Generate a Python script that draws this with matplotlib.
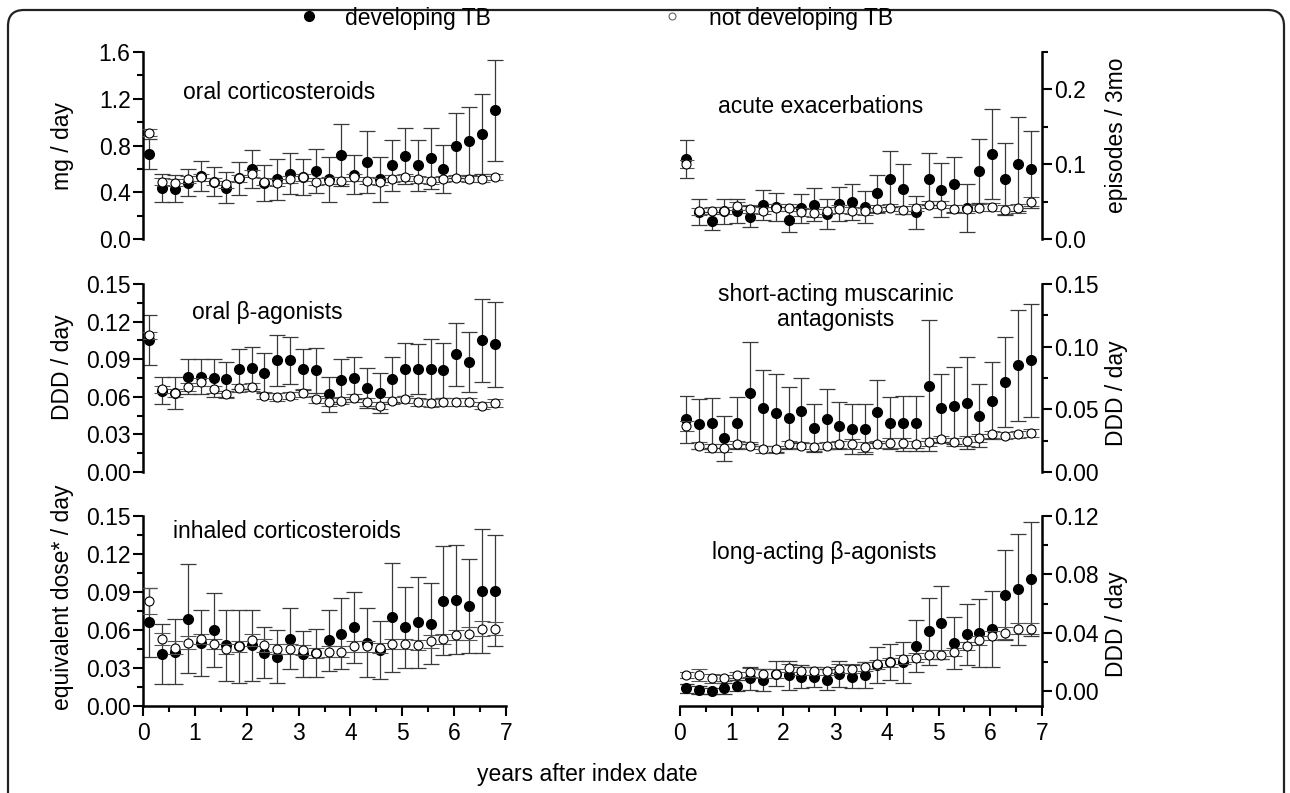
import matplotlib
matplotlib.use("Agg")
import matplotlib.pyplot as plt
from matplotlib.lines import Line2D
from matplotlib.patches import FancyBboxPatch
from matplotlib.transforms import IdentityTransform
from matplotlib.ticker import MultipleLocator, FormatStrFormatter

plt.rcParams['font.family'] = ['Liberation Sans', 'DejaVu Sans']
plt.rcParams['font.size'] = 16.5

# years after index date (quarter-year bins)
years = [0.12, 0.37, 0.62, 0.86, 1.11, 1.36, 1.60, 1.85, 2.10, 2.34, 2.59, 2.84, 3.08, 3.33,
         3.58, 3.82, 4.07, 4.32, 4.56, 4.81, 5.05, 5.30, 5.55, 5.79, 6.04, 6.29, 6.53, 6.78]

# oral corticosteroids (mg / day)
ocs_tb = [0.73, 0.44, 0.43, 0.48, 0.54, 0.49, 0.44, 0.52, 0.60, 0.48, 0.51, 0.56, 0.53, 0.58,
          0.51, 0.72, 0.55, 0.66, 0.51, 0.63, 0.71, 0.63, 0.69, 0.60, 0.80, 0.84, 0.90, 1.10]
ocs_tb_err = [0.13, 0.12, 0.115, 0.115, 0.13, 0.125, 0.13, 0.14, 0.16, 0.155, 0.175, 0.175, 0.155, 0.19,
              0.19, 0.265, 0.165, 0.265, 0.19, 0.22, 0.24, 0.22, 0.26, 0.205, 0.28, 0.29, 0.34, 0.43]
ocs_no = [0.91, 0.49, 0.48, 0.51, 0.53, 0.49, 0.47, 0.52, 0.56, 0.49, 0.48, 0.51, 0.53, 0.49,
          0.50, 0.50, 0.53, 0.50, 0.49, 0.515, 0.53, 0.51, 0.50, 0.515, 0.52, 0.51, 0.51, 0.53]
ocs_no_err = [0.03, 0.03, 0.03, 0.03, 0.03, 0.03, 0.03, 0.03, 0.03, 0.03, 0.03, 0.03, 0.03, 0.03,
              0.03, 0.03, 0.03, 0.03, 0.03, 0.03, 0.03, 0.03, 0.03, 0.025, 0.025, 0.025, 0.025, 0.025]

# acute exacerbations (episodes / 3mo)
exa_tb = [0.107, 0.036, 0.024, 0.037, 0.037, 0.030, 0.046, 0.043, 0.026, 0.041, 0.046, 0.034, 0.047, 0.050,
          0.043, 0.061, 0.080, 0.067, 0.036, 0.080, 0.066, 0.073, 0.041, 0.091, 0.114, 0.080, 0.100, 0.093]
exa_tb_err = [0.026, 0.017, 0.012, 0.017, 0.016, 0.014, 0.020, 0.019, 0.017, 0.019, 0.022, 0.020, 0.023, 0.024,
              0.021, 0.025, 0.037, 0.033, 0.022, 0.035, 0.036, 0.037, 0.032, 0.043, 0.060, 0.048, 0.063, 0.052]
exa_no = [0.100, 0.037, 0.038, 0.038, 0.044, 0.040, 0.038, 0.042, 0.042, 0.036, 0.035, 0.038, 0.040, 0.038,
          0.037, 0.040, 0.042, 0.039, 0.042, 0.046, 0.046, 0.040, 0.040, 0.042, 0.043, 0.039, 0.041, 0.050]
exa_no_err = [0.005, 0.005, 0.005, 0.005, 0.005, 0.005, 0.005, 0.005, 0.005, 0.005, 0.005, 0.005, 0.005, 0.005,
              0.005, 0.005, 0.005, 0.005, 0.005, 0.005, 0.005, 0.005, 0.005, 0.005, 0.005, 0.006, 0.006, 0.006]

# oral beta-agonists (DDD / day)
oba_tb = [0.105, 0.065, 0.063, 0.076, 0.076, 0.075, 0.074, 0.082, 0.083, 0.079, 0.089, 0.089, 0.082, 0.081,
          0.062, 0.073, 0.075, 0.067, 0.063, 0.074, 0.082, 0.082, 0.082, 0.081, 0.094, 0.088, 0.105, 0.102]
oba_tb_err = [0.020, 0.011, 0.0125, 0.014, 0.014, 0.015, 0.014, 0.016, 0.017, 0.016, 0.020, 0.019, 0.0165, 0.018,
              0.014, 0.017, 0.017, 0.016, 0.016, 0.018, 0.021, 0.020, 0.024, 0.022, 0.025, 0.024, 0.033, 0.034]
oba_no = [0.109, 0.066, 0.063, 0.068, 0.072, 0.066, 0.062, 0.067, 0.068, 0.061, 0.060, 0.061, 0.063, 0.058,
          0.056, 0.057, 0.059, 0.056, 0.053, 0.057, 0.058, 0.056, 0.055, 0.056, 0.056, 0.056, 0.053, 0.055]
oba_no_err = [0.003, 0.003, 0.003, 0.003, 0.003, 0.003, 0.003, 0.003, 0.003, 0.003, 0.003, 0.003, 0.003, 0.003,
              0.003, 0.003, 0.003, 0.003, 0.003, 0.003, 0.003, 0.003, 0.003, 0.003, 0.003, 0.003, 0.003, 0.003]

# short-acting muscarinic antagonists (DDD / day)
sama_tb = [0.042, 0.038, 0.039, 0.027, 0.039, 0.063, 0.051, 0.047, 0.043, 0.049, 0.035, 0.042, 0.037, 0.034,
           0.034, 0.048, 0.039, 0.039, 0.039, 0.069, 0.051, 0.053, 0.055, 0.045, 0.057, 0.072, 0.085, 0.089]
sama_tb_err = [0.019, 0.020, 0.020, 0.018, 0.021, 0.041, 0.030, 0.031, 0.025, 0.026, 0.019, 0.024, 0.019, 0.020,
               0.020, 0.025, 0.021, 0.022, 0.022, 0.052, 0.027, 0.031, 0.037, 0.025, 0.031, 0.036, 0.044, 0.045]
sama_no = [0.037, 0.021, 0.019, 0.019, 0.022, 0.021, 0.018, 0.018, 0.022, 0.021, 0.020, 0.021, 0.022, 0.022,
           0.020, 0.022, 0.023, 0.023, 0.022, 0.024, 0.026, 0.024, 0.025, 0.027, 0.030, 0.029, 0.030, 0.031]
sama_no_err = [0.004, 0.003, 0.003, 0.003, 0.003, 0.003, 0.003, 0.003, 0.003, 0.003, 0.003, 0.003, 0.003, 0.004,
               0.004, 0.003, 0.004, 0.004, 0.003, 0.003, 0.003, 0.003, 0.004, 0.003, 0.003, 0.003, 0.003, 0.003]

# inhaled corticosteroids (equivalent dose* / day)
ics_tb = [0.066, 0.041, 0.043, 0.069, 0.050, 0.060, 0.048, 0.047, 0.048, 0.042, 0.039, 0.053, 0.041, 0.042,
          0.052, 0.057, 0.062, 0.050, 0.044, 0.070, 0.062, 0.066, 0.065, 0.083, 0.084, 0.079, 0.091, 0.091]
ics_tb_err = [0.027, 0.024, 0.026, 0.043, 0.026, 0.029, 0.028, 0.029, 0.028, 0.020, 0.021, 0.024, 0.018, 0.019,
              0.024, 0.028, 0.028, 0.027, 0.023, 0.043, 0.032, 0.036, 0.032, 0.043, 0.043, 0.037, 0.049, 0.044]
ics_no = [0.083, 0.053, 0.046, 0.050, 0.053, 0.049, 0.045, 0.047, 0.052, 0.048, 0.045, 0.045, 0.044, 0.042,
          0.043, 0.043, 0.047, 0.047, 0.046, 0.049, 0.049, 0.048, 0.051, 0.053, 0.056, 0.057, 0.061, 0.061]
ics_no_err = [0.010, 0.005, 0.005, 0.005, 0.004, 0.004, 0.004, 0.004, 0.005, 0.005, 0.004, 0.004, 0.004, 0.004,
              0.004, 0.004, 0.004, 0.004, 0.004, 0.004, 0.004, 0.004, 0.005, 0.004, 0.004, 0.005, 0.006, 0.005]

# long-acting beta-agonists (DDD / day)
laba_tb = [0.002, 0.001, 0.000, 0.002, 0.004, 0.009, 0.008, 0.012, 0.011, 0.010, 0.010, 0.008, 0.012, 0.010,
           0.011, 0.018, 0.020, 0.020, 0.031, 0.041, 0.047, 0.033, 0.039, 0.040, 0.043, 0.066, 0.070, 0.077]
laba_tb_err = [0.003, 0.003, 0.002, 0.004, 0.004, 0.008, 0.0075, 0.0085, 0.010, 0.008, 0.007, 0.007, 0.009, 0.008,
               0.009, 0.0125, 0.0125, 0.014, 0.018, 0.023, 0.025, 0.018, 0.021, 0.0235, 0.026, 0.031, 0.038, 0.039]
laba_no = [0.011, 0.011, 0.009, 0.009, 0.011, 0.013, 0.012, 0.012, 0.016, 0.014, 0.014, 0.014, 0.0155, 0.0155,
           0.017, 0.0185, 0.020, 0.022, 0.023, 0.025, 0.025, 0.027, 0.031, 0.035, 0.038, 0.040, 0.043, 0.043]
laba_no_err = [0.002, 0.004, 0.003, 0.002, 0.002, 0.003, 0.003, 0.003, 0.003, 0.003, 0.003, 0.003, 0.003, 0.003,
               0.003, 0.003, 0.003, 0.003, 0.003, 0.003, 0.003, 0.003, 0.003, 0.003, 0.003, 0.004, 0.004, 0.004]

fig = plt.figure(figsize=(12.9, 7.93), dpi=100)

# figure fractions of the six panels
left_x, left_w = 0.1109, 0.2814
right_x, right_w = 0.5271, 0.2806
rows = [(0.6986, 0.2358), (0.4048, 0.2371), (0.1097, 0.2396)]

panels = [
    # side, row, tb, tb_err, no, no_err, ylim, major, minor, ylabel, label_y, title, title_pos, fmt
    ('left', 0, ocs_tb, ocs_tb_err, ocs_no, ocs_no_err, (0, 1.6), 0.4, 0.2, 'mg / day', 0.50,
     'oral corticosteroids', (0.11, 0.786), '%.1f'),
    ('right', 0, exa_tb, exa_tb_err, exa_no, exa_no_err, (0, 0.25), 0.1, 0.05, 'episodes / 3mo', 0.556,
     'acute exacerbations', (0.105, 0.706), '%.1f'),
    ('left', 1, oba_tb, oba_tb_err, oba_no, oba_no_err, (0, 0.15), 0.03, 0.015, 'DDD / day', 0.56,
     'oral \u03b2-agonists', (0.135, 0.846), '%.2f'),
    ('right', 1, sama_tb, sama_tb_err, sama_no, sama_no_err, (0, 0.15), 0.05, 0.025, 'DDD / day', 0.42,
     'short-acting muscarinic\nantagonists', (0.431, 0.878), '%.2f'),
    ('left', 2, ics_tb, ics_tb_err, ics_no, ics_no_err, (0, 0.15), 0.03, 0.015, 'equivalent dose* / day', 0.57,
     'inhaled corticosteroids', (0.083, 0.916), '%.2f'),
    ('right', 2, laba_tb, laba_tb_err, laba_no, laba_no_err, (-0.01, 0.12), 0.04, 0.02, 'DDD / day', 0.43,
     'long-acting \u03b2-agonists', (0.088, 0.81), '%.2f'),
]

bar_color = '#3a3a3a'

for side, row, tb, tb_err, no, no_err, ylim, major, minor, ylabel, label_y, title, title_pos, fmt in panels:
    y0, h = rows[row]
    x0, w = (left_x, left_w) if side == 'left' else (right_x, right_w)
    ax = fig.add_axes([x0, y0, w, h])

    ax.errorbar(years, tb, yerr=tb_err, fmt='o', color='black', ms=7, mfc='black', mec='black',
                ecolor=bar_color, elinewidth=0.9, capsize=5.5, capthick=0.9, zorder=2)
    ax.errorbar(years, no, yerr=no_err, fmt='o', color='black', ms=6.5, mfc='white', mec='black',
                mew=0.8, ecolor='#555555', elinewidth=0.9, capsize=5.5, capthick=0.9, zorder=3)

    ax.set_xlim(0, 7)
    ax.set_ylim(*ylim)
    ax.yaxis.set_major_locator(MultipleLocator(major))
    ax.yaxis.set_minor_locator(MultipleLocator(minor))
    ax.yaxis.set_major_formatter(FormatStrFormatter(fmt))
    ax.tick_params(which='both', direction='out', width=1.5)
    ax.tick_params(which='major', length=7.5, pad=1.5)
    ax.tick_params(which='minor', length=4.5)

    for s in ax.spines.values():
        s.set_linewidth(1.8)
    ax.spines['top'].set_visible(False)
    if side == 'left':
        ax.spines['right'].set_visible(False)
    else:
        ax.spines['left'].set_visible(False)
        ax.yaxis.tick_right()
        ax.yaxis.set_label_position('right')

    if row == 2:
        ax.xaxis.set_major_locator(MultipleLocator(1))
        ax.xaxis.set_minor_locator(MultipleLocator(0.5))
        ax.tick_params(axis='x', which='major', pad=4)
    else:
        ax.spines['bottom'].set_visible(False)
        ax.xaxis.set_visible(False)

    ax.set_ylabel(ylabel)
    if side == 'left':
        ax.yaxis.set_label_coords(-0.19, label_y)
    else:
        ax.yaxis.set_label_coords(1.175, label_y)

    ha = 'center' if '\n' in title else 'left'
    ax.text(title_pos[0], title_pos[1], title, transform=ax.transAxes, ha=ha, va='center',
            linespacing=1.15)
    ax.patch.set_visible(False)

fig.text(587 / 1290, 1 - 775 / 793, 'years after index date', ha='center', va='center')

handles = [Line2D([], [], ls='none', marker='o', ms=7, mfc='black', mec='black'),
           Line2D([], [], ls='none', marker='o', ms=5, mfc='white', mec='#666666', mew=0.8)]
fig.legend(handles, ['developing TB', 'not developing TB'], loc='center left',
           bbox_to_anchor=(288 / 1290, 1 - 18 / 793), ncol=2, frameon=False, borderaxespad=0,
           handlelength=1.0, handletextpad=1.1, columnspacing=7.4)

# rounded outer frame, open at the bottom edge
frame = FancyBboxPatch((8, -40), 1276, 793 - 10 + 40, boxstyle='round,pad=0,rounding_size=16',
                       transform=IdentityTransform(), fill=False, lw=1.6, ec='#222222')
fig.add_artist(frame)

fig.savefig('out.png', dpi=100)
